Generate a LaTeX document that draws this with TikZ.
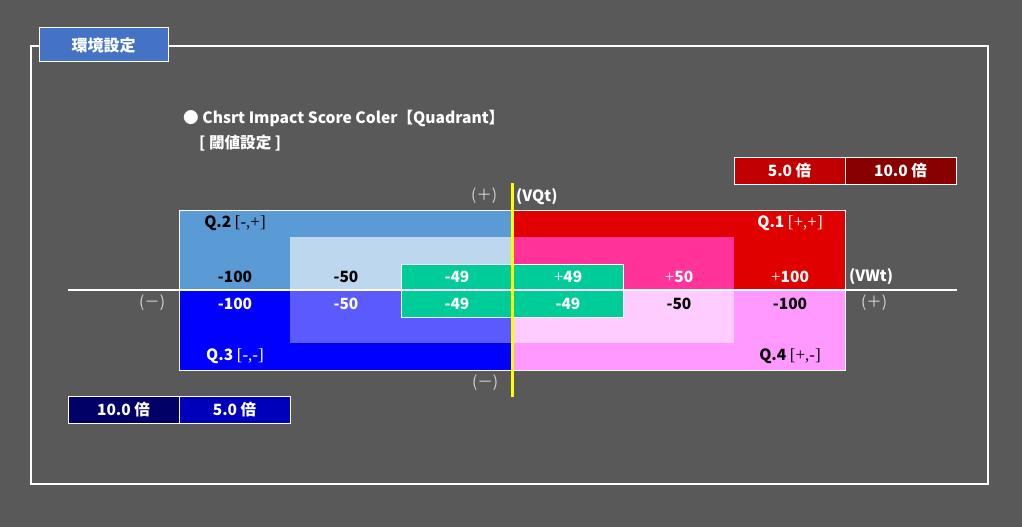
\documentclass[tikz,border=0pt]{standalone}
\usepackage{fontspec}
\setmainfont{Noto Sans CJK JP}
\newfontfamily\serifb{Liberation Serif}
\newcommand{\sr}[1]{{\serifb\mdseries\fontsize{17}{18}\selectfont #1}}
\definecolor{bg}{HTML}{595959}
\definecolor{titleblue}{HTML}{4472C4}
\definecolor{qtwo}{HTML}{5B9BD5}
\definecolor{qtwoin}{HTML}{BDD7EE}
\definecolor{qone}{HTML}{E00000}
\definecolor{qonein}{HTML}{FF3399}
\definecolor{qthree}{HTML}{0000FF}
\definecolor{qthreein}{HTML}{5A5AFF}
\definecolor{qfour}{HTML}{FF99FF}
\definecolor{qfourin}{HTML}{FFCCFF}
\definecolor{gcell}{HTML}{00CC99}
\definecolor{redA}{HTML}{C00000}
\definecolor{redB}{HTML}{880000}
\definecolor{blueA}{HTML}{000066}
\definecolor{blueB}{HTML}{0000BB}
\definecolor{lgray}{HTML}{D0D0D0}
\definecolor{ylw}{HTML}{FFFF00}
\tikzset{
  txt/.style={font=\fontsize{15.5}{18}\selectfont\bfseries, inner sep=0pt, anchor=center},
  wtxt/.style={txt, text=white},
  btxt/.style={txt, text=black},
  signlbl/.style={font=\fontsize{15.5}{18}\selectfont, text=lgray, inner sep=0pt},
  ratebox/.style={draw=white, line width=1pt, minimum width=111pt, minimum height=27pt, inner sep=0pt, text=white, font=\fontsize{15.5}{18}\selectfont\bfseries},
  gbox/.style={fill=gcell, draw=white, line width=1pt}
}
\begin{document}
\begin{tikzpicture}[x=1pt,y=-1pt]
\useasboundingbox (0,0) rectangle (1022,527);
\fill[bg] (0,0) rectangle (1022,527);
% outer frame
\draw[white, line width=1.2pt] (31,46) rectangle (988,484);
\node[draw=white, line width=1pt, fill=titleblue, minimum width=129pt, minimum height=34pt, inner sep=0pt, text=white, font=\fontsize{16}{18}\selectfont\bfseries] (title) at (103.5,45) {環境設定};
% heading
\node[anchor=west, text=white, inner sep=0pt, font=\fontsize{15.6}{18}\selectfont\bfseries] (head) at (183,118) {● Chsrt Impact Score Coler【Quadrant】};
\node[anchor=west, text=white, inner sep=0pt, font=\fontsize{15.6}{18}\selectfont\bfseries] (sub) at (199,143) {[ 閾値設定 ]};
% rate boxes
\node[ratebox, fill=redA] (r5) at (789.5,170.5) {5.0 倍};
\node[ratebox, fill=redB] (r10) at (900.5,170.5) {10.0 倍};
\node[ratebox, fill=blueA] (b10) at (123.5,410) {10.0 倍};
\node[ratebox, fill=blueB] (b5) at (234.5,410) {5.0 倍};
% quadrants
\fill[qtwo] (179,210) rectangle (512,290);
\fill[qtwoin] (290,237) rectangle (512,290);
\fill[qone] (512,210) rectangle (845,290);
\fill[qonein] (512,237) rectangle (734,290);
\fill[qthree] (179,290) rectangle (512,370);
\fill[qthreein] (290,290) rectangle (512,343);
\fill[qfour] (512,290) rectangle (845,370);
\fill[qfourin] (512,290) rectangle (734,343);
\draw[gbox] (401,264) rectangle (623,290);
\draw[gbox] (401,290) rectangle (623,317);
\draw[white, line width=1pt] (179,210) rectangle (845,370);
% axes
\coordinate (hl) at (68,290);
\coordinate (hr) at (957,290);
\coordinate (vt) at (512,183);
\coordinate (vb) at (512,397);
\draw[white, line width=2.8pt] (hl) -- (hr);
\draw[ylw, line width=3pt] (vt) -- (vb);
% quadrant labels
\node[btxt] (q2) at (235,223) {Q.2 \sr{[-,+]}};
\node[wtxt] (q1) at (790,223) {Q.1 \sr{[+,+]}};
\node[wtxt] (q3) at (235,356) {Q.3 \sr{[-,-]}};
\node[btxt] (q4) at (790,356) {Q.4 \sr{[+,-]}};
% values top row
\node[btxt] (t1) at (235,276.5) {-100};
\node[btxt] (t2) at (346,276.5) {-50};
\node[wtxt] (t3) at (457,276.5) {-49};
\node[wtxt] (t4) at (568,276.5) {\sr{+}49};
\node[wtxt] (t5) at (679,276.5) {\sr{+}50};
\node[wtxt] (t6) at (790,276.5) {\sr{+}100};
% values bottom row
\node[wtxt] (u1) at (235,303.5) {-100};
\node[wtxt] (u2) at (346,303.5) {-50};
\node[wtxt] (u3) at (457,303.5) {-49};
\node[wtxt] (u4) at (568,303.5) {-49};
\node[btxt] (u5) at (679,303.5) {-50};
\node[btxt] (u6) at (790,303.5) {-100};
% axis labels
\node[signlbl] (pt) at (484,196) {(＋)};
\node[wtxt, anchor=west] (vqt) at (516,197) {(VQt)};
\node[wtxt, anchor=west] (vwt) at (849,277) {(VWt)};
\node[signlbl] (pr) at (874,303) {(＋)};
\node[signlbl] (ml) at (152,303) {(－)};
\node[signlbl] (mb) at (485,383) {(－)};
\end{tikzpicture}
\end{document}
